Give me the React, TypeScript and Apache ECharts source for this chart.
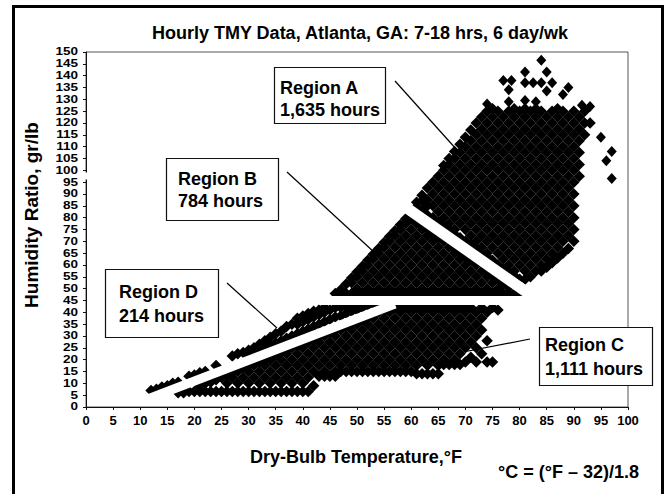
import React, { useEffect, useRef } from "react";
import * as echarts from "echarts";

// ---- data: each row is [dry-bulb °F, humidity ratios gr/lb ...]
const regionD: number[][] = [
  [12, 7], [13, 7.5], [14, 8.5], [15, 9], [16, 10], [17, 10.5], [19, 13], [20, 13.5], [21, 14.5], [22, 15],
  [24, 17.5], [27, 21.5], [28, 22.5], [29, 23], [30, 22, 24], [31, 23, 25], [32, 24, 26.5], [33, 25, 28],
  [34, 26, 29.5], [35, 27, 31], [36, 28, 32], [37, 29, 34], [38, 30, 35], [39, 31, 35, 37.5], [40, 32, 36, 38.5],
  [41, 33, 37, 39.5], [42, 34, 38, 40.5], [43, 35, 39, 41], [44, 36, 40, 42], [45, 37, 41], [46, 38, 42],
  [47, 38.5, 42], [48, 39.5, 42.5], [49, 40.5, 42.5], [50, 41, 43], [51, 42], [52, 43], [53, 43.5], [54, 44],
];

const regionC: number[][] = [
  [17, 6], [18, 6], [19, 6.5], [20, 6.5], [21, 6.5, 9], [22, 6.5, 10], [23, 6.5, 10.5], [24, 6.5, 11.5],
  [25, 6.5, 12.5], [26, 6.5, 10, 13.5], [27, 6.5, 12.5, 14.5], [28, 6.5, 10, 15], [29, 6.5, 12.5, 16.5],
  [30, 6.5, 10, 15, 17.5], [31, 6.5, 12.5, 17.5], [32, 6.5, 10, 15, 19], [33, 6.5, 12.5, 17.5, 20],
  [34, 6.5, 10, 15, 20], [35, 6.5, 12.5, 17.5, 22], [36, 6.5, 10, 15, 20, 23], [37, 6.5, 12.5, 17.5, 22.5, 24],
  [38, 6.5, 10, 15, 20, 25], [39, 6.5, 12.5, 17.5, 22.5, 26], [40, 6.5, 10, 15, 20, 25, 27],
  [41, 6.5, 12.5, 17.5, 22.5, 27.5], [42, 9, 15, 20, 25, 28.5], [43, 13, 17.5, 22.5, 27.5, 29.5],
  [44, 13, 15, 20, 25, 30], [45, 13, 17.5, 22.5, 27.5, 31.5], [46, 13, 15, 20, 25, 30, 32.5],
  [47, 15, 17.5, 22.5, 27.5, 32.5], [48, 15, 20, 25, 30, 34], [49, 15, 17.5, 22.5, 27.5, 32.5, 35],
  [50, 15, 20, 25, 30, 35], [51, 15, 17.5, 22.5, 27.5, 32.5, 37], [52, 15, 20, 25, 30, 35, 38],
  [53, 15, 17.5, 22.5, 27.5, 32.5, 37.5, 39], [54, 15, 20, 25, 30, 35, 40], [55, 15, 17.5, 22.5, 27.5, 32.5, 37.5, 41],
  [56, 15, 20, 25, 30, 35, 40, 42], [57, 15, 17.5, 22.5, 27.5, 32.5, 37.5, 42], [58, 15, 20, 25, 30, 35, 40, 42],
  [59, 15, 17.5, 22.5, 27.5, 32.5, 37.5, 42], [60, 15, 20, 25, 30, 35, 40, 42],
  [61, 14, 17.5, 22.5, 27.5, 32.5, 37.5, 42], [62, 14, 20, 25, 30, 35, 40, 42],
  [63, 14, 17.5, 22.5, 27.5, 32.5, 37.5, 42], [64, 14, 20, 25, 30, 35, 40, 42],
  [65, 14, 17.5, 22.5, 27.5, 32.5, 37.5, 42], [66, 18, 20, 25, 30, 35, 40, 42],
  [67, 18, 22.5, 27.5, 32.5, 37.5, 42], [68, 18, 20, 25, 30, 35, 40, 42], [69, 18, 22.5, 27.5, 32.5, 37.5, 42],
  [70, 19, 25, 30, 35, 40, 42], [71, 21, 27.5, 32.5, 37.5, 42], [72, 19, 25, 30, 35, 40],
  [73, 22.5, 32.5, 37.5, 42], [74, 19, 28, 40], [75, 19, 42], [76, 41],
];

const regionB: number[][] = [
  [46, 48], [47, 48, 49.5], [48, 48, 52], [49, 48, 52.5, 54.5], [50, 48, 50, 55, 57], [51, 48, 52.5, 57.5, 59.5],
  [52, 48, 50, 55, 60, 62], [53, 48, 52.5, 57.5, 62.5, 64.5], [54, 48, 50, 55, 60, 65, 67],
  [55, 48, 52.5, 57.5, 62.5, 67.5, 69.5], [56, 48, 50, 55, 60, 65, 70, 72],
  [57, 48, 52.5, 57.5, 62.5, 67.5, 72.5, 74.5], [58, 48, 50, 55, 60, 65, 70, 75, 77],
  [59, 48, 52.5, 57.5, 62.5, 67.5, 72.5, 77.5, 79.5], [60, 48, 50, 55, 60, 65, 70, 75, 79.5],
  [61, 48, 52.5, 57.5, 62.5, 67.5, 72.5, 77.5], [62, 48, 50, 55, 60, 65, 70, 75, 76.5],
  [63, 48, 52.5, 57.5, 62.5, 67.5, 72.5, 75], [64, 48, 50, 55, 60, 65, 70, 73],
  [65, 48, 52.5, 57.5, 62.5, 67.5, 71.5], [66, 48, 50, 55, 60, 65, 70], [67, 48, 52.5, 57.5, 62.5, 67.5],
  [68, 48, 50, 55, 60, 65, 67], [69, 48, 52.5, 57.5, 62.5, 65], [70, 48, 50, 55, 60, 63.5],
  [71, 48, 52.5, 57.5, 62], [72, 48, 50, 55, 60], [73, 48, 52.5, 57.5], [74, 48, 50, 55, 57],
  [75, 48, 52.5, 55.5], [76, 48, 50, 54], [77, 48, 52], [78, 48, 50.5], [79, 48], [80, 48],
];

const regionA: number[][] = [
  [61, 84.5, 86.5], [62, 83, 87, 89.5], [63, 81, 85, 87.5, 92.5], [64, 80, 85, 90, 95],
  [65, 78, 82.5, 87.5, 92.5, 97.5], [66, 76.5, 80, 85, 90, 95, 100, 102],
  [67, 75, 77.5, 82.5, 87.5, 92.5, 97.5, 102.5, 105], [68, 73, 75, 80, 85, 90, 95, 100, 105, 108],
  [69, 71.5, 77.5, 82.5, 87.5, 92.5, 97.5, 102.5, 107.5, 111],
  [70, 70, 75, 80, 85, 90, 95, 100, 105, 110, 114],
  [71, 68.5, 72.5, 77.5, 82.5, 87.5, 92.5, 97.5, 102.5, 107.5, 112.5, 117],
  [72, 67, 70, 75, 80, 85, 90, 95, 100, 105, 110, 115, 120],
  [73, 65, 67.5, 72.5, 77.5, 82.5, 87.5, 92.5, 97.5, 102.5, 107.5, 112.5, 117.5, 122.5],
  [74, 63.5, 65, 70, 75, 80, 85, 90, 95, 100, 105, 110, 115, 120, 125],
  [75, 62, 67.5, 72.5, 77.5, 82.5, 87.5, 92.5, 97.5, 102.5, 107.5, 112.5, 117.5, 122.5, 126],
  [76, 60, 65, 70, 75, 80, 85, 90, 95, 100, 105, 110, 115, 120, 125],
  [77, 58.5, 62.5, 67.5, 72.5, 77.5, 82.5, 87.5, 92.5, 97.5, 102.5, 107.5, 112.5, 117.5, 122.5],
  [78, 57, 60, 65, 70, 75, 80, 85, 90, 95, 100, 105, 110, 115, 120, 125],
  [79, 55.5, 57.5, 62.5, 67.5, 72.5, 77.5, 82.5, 87.5, 92.5, 97.5, 102.5, 107.5, 112.5, 117.5, 122.5, 126],
  [80, 54, 60, 65, 70, 75, 80, 85, 90, 95, 100, 105, 110, 115, 120, 125],
  [81, 54, 57.5, 62.5, 67.5, 72.5, 77.5, 82.5, 87.5, 92.5, 97.5, 102.5, 107.5, 112.5, 117.5, 122.5, 126],
  [82, 55, 60, 65, 70, 75, 80, 85, 90, 95, 100, 105, 110, 115, 120, 125],
  [83, 57.5, 62.5, 67.5, 72.5, 77.5, 82.5, 87.5, 92.5, 97.5, 102.5, 107.5, 112.5, 117.5, 122.5, 126],
  [84, 57.5, 60, 65, 70, 75, 80, 85, 90, 95, 100, 105, 110, 115, 120, 125],
  [85, 59, 62.5, 67.5, 72.5, 77.5, 82.5, 87.5, 92.5, 97.5, 102.5, 107.5, 112.5, 117.5, 122.5],
  [86, 61, 65, 70, 75, 80, 85, 90, 95, 100, 105, 110, 115, 120, 125],
  [87, 63, 67.5, 72.5, 77.5, 82.5, 87.5, 92.5, 97.5, 102.5, 107.5, 112.5, 117.5, 122.5, 126],
  [88, 65, 70, 75, 80, 85, 90, 95, 100, 105, 110, 115, 120, 125],
  [89, 67, 72.5, 77.5, 82.5, 87.5, 92.5, 97.5, 102.5, 107.5, 112.5, 117.5, 122.5],
  [90, 70, 75, 80, 85, 90, 95, 100, 105, 110, 115, 120, 125],
  [91, 97.5, 102.5, 107.5, 112.5, 117.5, 122.5], [92, 115, 120, 125], [93, 120],
];

const outliers: number[][] = [
  [84, 146.5], [81, 141.5], [85, 141.5], [77, 138], [78.5, 138], [78, 134], [81, 137], [82.5, 137], [84, 137],
  [86, 137], [89, 135], [85, 133.5], [88, 132], [74, 128], [78, 129], [81, 129.5], [83, 129], [91.5, 127.5],
  [93, 127], [95, 114], [97, 108], [96, 104], [97, 96.5],
];

// white separating bands between the regions (data coordinates)
const bandLowerDiagonal: number[][] = [[11.5, 3.5], [57, 43.5]];
const bandHorizontal: number[][] = [[43, 45], [86, 45]];
const bandUpperDiagonal: number[][] = [[58, 86], [84, 44.2]];

// y tick labels (gr/lb)
const yTickValues = [0, 5, 10, 15, 20, 25, 30, 35, 40, 45, 50, 55, 60, 65, 70, 75, 80, 85, 90, 95, 100, 105, 110, 115, 120, 125, 130, 135, 140, 145, 150];

const titleText = "Hourly TMY Data, Atlanta, GA: 7-18 hrs, 6 day/wk";
const xAxisTitle = "Dry-Bulb Temperature,°F";
const yAxisTitle = "Humidity Ratio, gr/lb";
const conversionText = "°C = (°F – 32)/1.8";
const regionLabels = ["Region A", "Region B", "Region C", "Region D"];
const regionHours = ["1,635 hours", "784 hours", "1,111 hours", "214 hours"];

const FONT = '"Liberation Sans", Arial, Helvetica, sans-serif';

function toPoints(rows: number[][]): number[][] {
  const pts: number[][] = [];
  rows.forEach(([x, ...ys]) => ys.forEach((y) => pts.push([x, y])));
  return pts;
}

function box(x: number, y: number, w: number, h: number, tx: number, l1: string, l2: string, y1: number, y2: number) {
  return [
    { type: "rect", z: 100, shape: { x: x + 0.5, y: y + 0.5, width: w, height: h }, style: { fill: "#fff", stroke: "#111", lineWidth: 1.2 } },
    { type: "text", z: 101, style: { text: l1, x: tx, y: y1, fontSize: 18, fontWeight: "bold", fontFamily: FONT, fill: "#000", align: "left", verticalAlign: "middle" } },
    { type: "text", z: 101, style: { text: l2, x: tx, y: y2, fontSize: 18, fontWeight: "bold", fontFamily: FONT, fill: "#000", align: "left", verticalAlign: "middle" } },
  ];
}

function leader(x1: number, y1: number, x2: number, y2: number) {
  return { type: "line", z: 100, shape: { x1, y1, x2, y2 }, style: { stroke: "#000", lineWidth: 1.2 } };
}

export default function App() {
  const ref = useRef<HTMLDivElement>(null);
  useEffect(() => {
    if (!ref.current) return;
    const chart = echarts.init(ref.current, undefined, { renderer: "svg" });
    const points = [
      ...toPoints(regionA),
      ...toPoints(regionB),
      ...toPoints(regionC),
      ...toPoints(regionD),
    ];
    const bandSeries = (data: number[][], width: number) => ({
      type: "line",
      data,
      symbol: "none",
      silent: true,
      z: 5,
      lineStyle: { color: "#fff", width, cap: "butt", opacity: 1 },
    });
    chart.setOption({
      animation: false,
      backgroundColor: "#fff",
      grid: { left: 86, right: 42, top: 52, bottom: 87, show: true, borderColor: "#555", borderWidth: 1, backgroundColor: "transparent" },
      xAxis: {
        type: "value",
        min: 0,
        max: 100,
        interval: 5,
        axisLine: { show: true, lineStyle: { color: "#111", width: 1 } },
        axisTick: { show: true, length: 3, lineStyle: { color: "#111" } },
        splitLine: { show: false },
        axisLabel: { color: "#000", fontSize: 13, fontWeight: "bold", fontFamily: FONT, margin: 7, showMinLabel: true, showMaxLabel: true },
      },
      yAxis: {
        type: "value",
        min: 0,
        max: 150,
        interval: 5,
        axisLine: { show: true, lineStyle: { color: "#111", width: 1 } },
        axisTick: { show: true, length: 3, lineStyle: { color: "#111" } },
        splitLine: { show: false },
        axisLabel: { show: false },
      },
      series: [
        { type: "scatter", data: points, symbol: "diamond", symbolSize: 11.5, itemStyle: { color: "#000", opacity: 1 }, silent: true, z: 2 },
        { type: "scatter", data: outliers, symbol: "diamond", symbolSize: [10, 11], itemStyle: { color: "#000", opacity: 1 }, silent: true, z: 2 },
        bandSeries(bandLowerDiagonal, 9),
        bandSeries(bandHorizontal, 9),
        bandSeries(bandUpperDiagonal, 11),
      ],
    });

    // y tick labels placed through the axis scale (narrow-height, widened text so the tight ticks do not collide)
    const yLabels = yTickValues.map((v) => {
      const p = chart.convertToPixel({ gridIndex: 0 }, [0, v]) as number[];
      return {
        type: "text",
        z: 100,
        x: p[0] - 8,
        y: p[1],
        scaleX: 1.35,
        style: { text: String(v), x: 0, y: 0, fontSize: 10, fontWeight: "bold", fontFamily: FONT, fill: "#000", align: "right", verticalAlign: "middle" },
      };
    });

    chart.setOption({
      graphic: [
        { type: "rect", z: 90, shape: { x: 13.5, y: 6.5, width: 649, height: 500 }, style: { fill: "none", stroke: "#000", lineWidth: 3 } },
        { type: "rect", z: 90, shape: { x: 83, y: 172.5, width: 6, height: 7 }, style: { fill: "#fff" } },
        { type: "text", z: 100, style: { text: titleText, x: 360, y: 33, fontSize: 18, fontWeight: "bold", fontFamily: FONT, fill: "#000", align: "center", verticalAlign: "middle" } },
        { type: "text", z: 100, x: 31, y: 215, rotation: Math.PI / 2, style: { text: yAxisTitle, x: 0, y: 0, fontSize: 19, fontWeight: "bold", fontFamily: FONT, fill: "#000", align: "center", verticalAlign: "middle" } },
        { type: "text", z: 100, style: { text: xAxisTitle, x: 356, y: 457, fontSize: 18, fontWeight: "bold", fontFamily: FONT, fill: "#000", align: "center", verticalAlign: "middle" } },
        { type: "text", z: 100, style: { text: conversionText, x: 639, y: 472, fontSize: 18, fontWeight: "bold", fontFamily: FONT, fill: "#000", align: "right", verticalAlign: "middle" } },
        leader(395, 81, 457, 150),
        leader(287, 172, 375, 253),
        leader(227, 283, 277, 328),
        leader(530, 339, 458, 353),
        ...box(274, 67, 111, 56, 280, regionLabels[0], regionHours[0], 88, 110),
        ...box(166, 158, 112, 62, 178, regionLabels[1], regionHours[1], 179, 201),
        ...box(539, 327, 113, 58, 545, regionLabels[2], regionHours[2], 345, 369),
        ...box(105, 269, 113, 68, 119, regionLabels[3], regionHours[3], 292, 316),
        ...yLabels,
      ],
    });
    return () => chart.dispose();
  }, []);
  return <div ref={ref} style={{ position: "absolute", left: 0, top: 0, width: 670, height: 494 }} />;
}
